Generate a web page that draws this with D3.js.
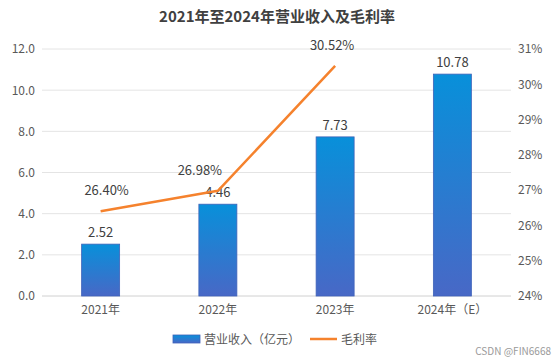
<!DOCTYPE html>
<html>
<head>
<meta charset="utf-8">
<script src="https://cdn.jsdelivr.net/npm/d3@7/dist/d3.min.js"></script>
<style>
body { margin: 0; background: #fff; }
svg { font-family: "Noto Sans CJK SC", "Noto Sans", sans-serif; }
</style>
</head>
<body>
<svg id="chart" width="554" height="360"></svg>
<script>
var categories = ['2021年', '2022年', '2023年', '2024年（E）'];
var revenue = [2.52, 4.46, 7.73, 10.78];
var margin = [26.40, 26.98, 30.52];
var leftTicks = [0, 2, 4, 6, 8, 10, 12];
var rightTicks = [24, 25, 26, 27, 28, 29, 30, 31];
var marginLabelShift = [6, -18, -3];

var chart = {
	initialize: function(){
		var self = this;
		self._render_view();
		return self;
	},
	_render_view: function(){
		var svg = d3.select('#chart');
		var left = 42, right = 511, top = 49, bottom = 296;

		var x = d3.scaleBand().domain(categories).range([left, right]);
		var y = d3.scaleLinear().domain([0, 12]).range([bottom, top]);
		var y2 = d3.scaleLinear().domain([24, 31]).range([bottom, top]);

		var defs = svg.append('defs');
		var grad = defs.append('linearGradient')
			.attr('id', 'barGrad')
			.attr('x1', 0).attr('y1', 0).attr('x2', 0).attr('y2', 1);
		grad.append('stop').attr('offset', '0%').attr('stop-color', '#0890da');
		grad.append('stop').attr('offset', '100%').attr('stop-color', '#4868c6');

		// title
		svg.append('text')
			.attr('x', 277).attr('y', 22)
			.attr('text-anchor', 'middle')
			.attr('font-size', 15).attr('font-weight', 'bold')
			.attr('fill', '#404040')
			.text('2021年至2024年营业收入及毛利率');

		// grid
		svg.append('g').selectAll('line')
			.data(leftTicks)
			.enter().append('line')
			.attr('x1', left).attr('x2', right)
			.attr('y1', function(d){ return y(d); })
			.attr('y2', function(d){ return y(d); })
			.attr('stroke', function(d){ return d == 0 ? '#d0d0d0' : '#e4e4e4'; })
			.attr('stroke-width', 1);

		// left axis
		var yAxis = d3.axisLeft(y).tickValues(leftTicks).tickSize(0).tickPadding(7)
			.tickFormat(d3.format('.1f'));
		var gl = svg.append('g').attr('transform', 'translate(' + left + ',0)').call(yAxis);
		gl.select('.domain').remove();
		gl.selectAll('text').attr('font-size', 12).attr('fill', '#595959')
			.attr('font-family', '"Noto Sans CJK SC", sans-serif');

		// right axis
		var yAxis2 = d3.axisRight(y2).tickValues(rightTicks).tickSize(0).tickPadding(7)
			.tickFormat(function(d){ return d + '%'; });
		var gr = svg.append('g').attr('transform', 'translate(' + right + ',0)').call(yAxis2);
		gr.select('.domain').remove();
		gr.selectAll('text').attr('font-size', 12).attr('fill', '#595959')
			.attr('font-family', '"Noto Sans CJK SC", sans-serif');

		// x axis
		var xAxis = d3.axisBottom(x).tickSize(0).tickPadding(9);
		var gx = svg.append('g').attr('transform', 'translate(0,' + bottom + ')').call(xAxis);
		gx.select('.domain').remove();
		gx.selectAll('text').attr('font-size', 12).attr('fill', '#595959')
			.attr('font-family', '"Noto Sans CJK SC", sans-serif');

		// bars
		var bw = 38;
		svg.append('g').selectAll('rect')
			.data(revenue)
			.enter().append('rect')
			.attr('x', function(d, i){ return x(categories[i]) + x.bandwidth() / 2 - bw / 2; })
			.attr('y', function(d){ return y(d); })
			.attr('width', bw)
			.attr('height', function(d){ return bottom - y(d); })
			.attr('fill', 'url(#barGrad)')
			.attr('stroke', '#3f62b8')
			.attr('stroke-width', 0.8);

		svg.append('g').selectAll('text')
			.data(revenue)
			.enter().append('text')
			.attr('x', function(d, i){ return x(categories[i]) + x.bandwidth() / 2; })
			.attr('y', function(d){ return y(d) - 7; })
			.attr('text-anchor', 'middle')
			.attr('font-size', 13).attr('fill', '#404040')
			.text(function(d){ return d.toFixed(2); });

		// margin line
		var line = d3.line()
			.x(function(d, i){ return x(categories[i]) + x.bandwidth() / 2; })
			.y(function(d){ return y2(d); });
		svg.append('path')
			.datum(margin)
			.attr('d', line)
			.attr('fill', 'none')
			.attr('stroke', '#f5822d')
			.attr('stroke-width', 2.5)
			.attr('stroke-linejoin', 'round');

		svg.append('g').selectAll('text')
			.data(margin)
			.enter().append('text')
			.attr('x', function(d, i){ return x(categories[i]) + x.bandwidth() / 2 + marginLabelShift[i]; })
			.attr('y', function(d){ return y2(d) - 16; })
			.attr('text-anchor', 'middle')
			.attr('font-size', 13).attr('fill', '#404040')
			.text(function(d){ return d.toFixed(2) + '%'; });

		// legend
		var lg = svg.append('g');
		lg.append('rect').attr('x', 173).attr('y', 335).attr('width', 27).attr('height', 8)
			.attr('fill', 'url(#barGrad)').attr('stroke', '#3f62b8').attr('stroke-width', 0.8);
		lg.append('text').attr('x', 204).attr('y', 343.5).attr('font-size', 12).attr('fill', '#595959')
			.text('营业收入（亿元）');
		lg.append('line').attr('x1', 310).attr('x2', 337).attr('y1', 339).attr('y2', 339)
			.attr('stroke', '#f5822d').attr('stroke-width', 2.5);
		lg.append('text').attr('x', 341).attr('y', 343.5).attr('font-size', 12).attr('fill', '#595959')
			.text('毛利率');

		// watermark
		svg.append('text').attr('x', 551).attr('y', 355).attr('text-anchor', 'end')
			.attr('font-size', 10).attr('fill', '#9a9a9a')
			.text('CSDN @FIN6668');
	}
};
chart.initialize();
</script>
</body>
</html>
